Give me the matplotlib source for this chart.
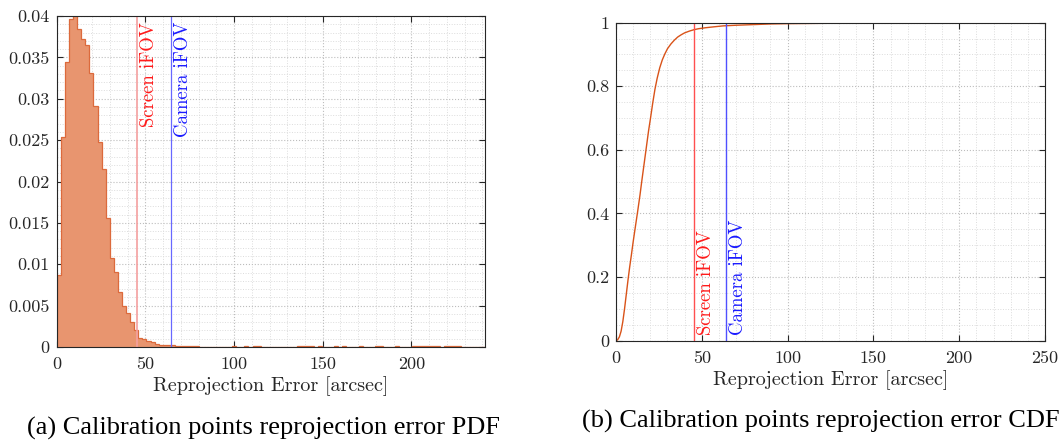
import matplotlib
matplotlib.use("Agg")
import matplotlib.pyplot as plt
import numpy as np
from matplotlib.ticker import MultipleLocator, FuncFormatter

plt.rcParams['font.family'] = ['cmr10', 'DejaVu Serif']
plt.rcParams['axes.formatter.use_mathtext'] = True

# histogram (pdf), bin width 2.3 arcsec starting at 0
bin_width = 2.3
n_bins = 105
pdf_main = [0.0087, 0.0254, 0.0345, 0.0397, 0.0405, 0.0384, 0.0372, 0.0365,
            0.0331, 0.0291, 0.0248, 0.0215, 0.0156, 0.0108, 0.0091, 0.0066,
            0.0050, 0.0041, 0.0030, 0.0021, 0.0011, 0.0010, 0.0007, 0.0006,
            0.0004, 0.0003, 0.00025, 0.0002, 0.0002, 0.00015, 0.00015,
            0.0001, 0.0001, 0.0001, 0.00008, 0.00006, 0.00006, 0.00005,
            0.00005, 0.00005]
tail_bins = [43, 46, 48, 49, 59, 60, 61, 62, 64, 68, 70, 74, 78, 79, 83,
             87, 88, 89, 90, 91, 92, 93, 95, 96, 97, 98]
tail_height = 0.0001

cdf_x = [0, 1, 2, 3, 4, 5, 6, 7, 8, 9, 10, 11, 12.6, 14, 15, 16, 17.5, 19,
         20, 21.5, 22.7, 24, 25.5, 27, 28.5, 30, 32, 34, 36, 38, 40, 43,
         45.5, 48, 52, 57, 62.5, 70, 80, 90, 100, 120, 140, 160, 180, 200,
         230]
cdf_y = [0, 0.003, 0.012, 0.03, 0.06, 0.1, 0.145, 0.19, 0.232, 0.27, 0.31,
         0.347, 0.405, 0.458, 0.5, 0.54, 0.6, 0.66, 0.695, 0.75, 0.79, 0.825,
         0.858, 0.883, 0.902, 0.918, 0.933, 0.945, 0.955, 0.962, 0.968,
         0.974, 0.978, 0.981, 0.984, 0.987, 0.99, 0.992, 0.994, 0.996,
         0.997, 0.998, 0.9985, 0.999, 0.9993, 0.9996, 1.0]

screen_ifov = 45.3
camera_ifov = 64.4

heights = np.zeros(n_bins)
heights[:len(pdf_main)] = pdf_main
heights[tail_bins] = tail_height
edges = np.arange(n_bins + 1) * bin_width

fig = plt.figure(figsize=(10.62, 4.45), dpi=100)
ax1 = fig.add_axes([0.0534, 0.2202, 0.4033, 0.7438])
ax2 = fig.add_axes([0.580, 0.2344, 0.404, 0.7146])

tick_fs = 13
label_fs = 14.5
line_fs = 13.5


def style(ax):
    ax.grid(True, which='major', linestyle=':', color='#bdbdbd', linewidth=0.8)
    ax.grid(True, which='minor', linestyle=':', color='#dcdcdc', linewidth=0.7)
    ax.set_axisbelow(True)
    ax.tick_params(which='both', direction='in', top=True, right=True,
                   labelsize=tick_fs, colors='#262626')
    ax.tick_params(which='major', length=4)
    ax.tick_params(axis='x', pad=7)
    ax.tick_params(axis='y', pad=5)
    ax.tick_params(which='minor', length=0)
    for s in ax.spines.values():
        s.set_color('#262626')
        s.set_linewidth(0.8)
    ax.set_xlabel('Reprojection Error [arcsec]', fontsize=label_fs,
                  color='#262626', labelpad=3)
    ax.xaxis.set_major_formatter(FuncFormatter(lambda v, p: '%g' % v))
    ax.yaxis.set_major_formatter(FuncFormatter(lambda v, p: '%g' % round(v, 4)))


# PDF
ax1.stairs(heights, edges, fill=True, color='#e8956f', linewidth=0)
ax1.stairs(heights, edges, color='#dc6a3c', linewidth=0.9)
ax1.set_xlim(0, edges[-1])
ax1.set_ylim(0, 0.04)
ax1.xaxis.set_major_locator(MultipleLocator(50))
ax1.xaxis.set_minor_locator(MultipleLocator(10))
ax1.yaxis.set_major_locator(MultipleLocator(0.005))
ax1.yaxis.set_minor_locator(MultipleLocator(0.001))
style(ax1)
ax1.axvline(screen_ifov, color='#f4a0a0', linewidth=1.2)
ax1.axvline(camera_ifov, color='#6868ff', linewidth=0.9)
ax1.text(screen_ifov + 1.8, 0.0393, 'Screen iFOV', rotation=90, color='#ff1a1a',
         fontsize=line_fs, ha='left', va='top')
ax1.text(camera_ifov + 1.8, 0.0393, 'Camera iFOV', rotation=90, color='#1a1aff',
         fontsize=line_fs, ha='left', va='top')

# CDF
ax2.plot(cdf_x, cdf_y, color='#d95319', linewidth=1.0)
ax2.set_xlim(0, 250)
ax2.set_ylim(0, 1)
ax2.xaxis.set_major_locator(MultipleLocator(50))
ax2.xaxis.set_minor_locator(MultipleLocator(10))
ax2.yaxis.set_major_locator(MultipleLocator(0.2))
ax2.yaxis.set_minor_locator(MultipleLocator(0.05))
style(ax2)
ax2.axvline(screen_ifov, color='#ff5050', linewidth=1.0)
ax2.axvline(camera_ifov, color='#5050ff', linewidth=1.0)
ax2.text(screen_ifov + 1.8, 0.017, 'Screen iFOV', rotation=90, color='#ff1a1a',
         fontsize=line_fs, ha='left', va='bottom')
ax2.text(camera_ifov + 1.8, 0.017, 'Camera iFOV', rotation=90, color='#1a1aff',
         fontsize=line_fs, ha='left', va='bottom')

fig.text(0.248, 0.038, '(a) Calibration points reprojection error PDF',
         family='Liberation Serif', fontsize=19, ha='center', va='center')
fig.text(0.773, 0.054, '(b) Calibration points reprojection error CDF',
         family='Liberation Serif', fontsize=19, ha='center', va='center')

fig.savefig('out.png', dpi=100)
